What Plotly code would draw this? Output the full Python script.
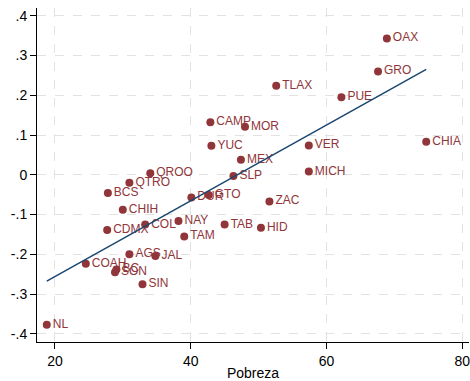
import numpy as np
import plotly.graph_objects as go

states = ["OAX", "GRO", "TLAX", "PUE", "CAMP", "MOR", "YUC", "VER", "CHIA", "MEX",
          "MICH", "SLP", "QROO", "QTRO", "BCS", "DUR", "GTO", "ZAC", "CHIH", "NAY",
          "COL", "TAB", "HID", "CDMX", "TAM", "AGS", "JAL", "COAH", "BC", "SON",
          "SIN", "NL"]
pobreza = [68.9, 67.6, 52.6, 62.2, 42.9, 48.0, 43.05, 57.4, 74.7, 47.4,
           57.4, 46.3, 34.05, 30.97, 27.8, 40.1, 42.66, 51.6, 30.0, 38.2,
           33.3, 45.0, 50.35, 27.7, 39.05, 30.97, 34.8, 24.55, 29.06, 28.85,
           32.9, 18.8]
valor = [0.343, 0.260, 0.224, 0.195, 0.132, 0.121, 0.073, 0.074, 0.083, 0.038,
         0.008, -0.003, 0.004, -0.020, -0.046, -0.057, -0.051, -0.067, -0.088, -0.116,
         -0.125, -0.125, -0.133, -0.139, -0.155, -0.200, -0.204, -0.224, -0.238, -0.245,
         -0.275, -0.377]

y_ticks = [0.4, 0.3, 0.2, 0.1, 0, -0.1, -0.2, -0.3, -0.4]
y_ticktext = [".4", ".3", ".2", ".1", "0", "-.1", "-.2", "-.3", "-.4"]
x_ticks = [20, 40, 60, 80]

x = np.array(pobreza)
y = np.array(valor)
b, a = np.polyfit(x, y, 1)
fx = np.array([x.min(), x.max()])
fy = a + b * fx

MAROON = "#903539"
FONT = "Liberation Sans, Arial, sans-serif"

fig = go.Figure()
fig.add_trace(go.Scatter(
    x=pobreza, y=valor, mode="markers+text", text=states,
    textposition="middle right",
    textfont=dict(family=FONT, size=12, color=MAROON),
    marker=dict(color=MAROON, size=8, line=dict(width=0)),
    showlegend=False, cliponaxis=False,
))
fig.add_trace(go.Scatter(
    x=fx, y=fy, mode="lines", line=dict(color="#1a476f", width=1.5),
    showlegend=False,
))

fig.update_layout(
    width=470, height=381,
    margin=dict(l=37, r=0, t=8, b=37),
    paper_bgcolor="white", plot_bgcolor="white",
    font=dict(family=FONT, size=14, color="black"),
    xaxis=dict(
        range=[17.36, 81.0], tickvals=x_ticks, ticks="outside", ticklen=6,
        tickcolor="black", showline=True, linecolor="black", linewidth=1,
        showgrid=True, gridcolor="#e2e2e2", griddash="dash", gridwidth=1,
        zeroline=False, tickfont=dict(size=14), ticklabeloverflow="allow",
        title=dict(text="Pobreza", font=dict(size=14), standoff=2),
    ),
    yaxis=dict(
        range=[-0.4205, 0.4195], tickvals=y_ticks, ticktext=y_ticktext,
        ticks="outside", ticklen=6, tickcolor="black", showline=True,
        linecolor="black", linewidth=1, showgrid=True, gridcolor="#e2e2e2",
        griddash="dash", gridwidth=1, zeroline=False, tickfont=dict(size=14),
    ),
)

fig.write_html("out.html")
